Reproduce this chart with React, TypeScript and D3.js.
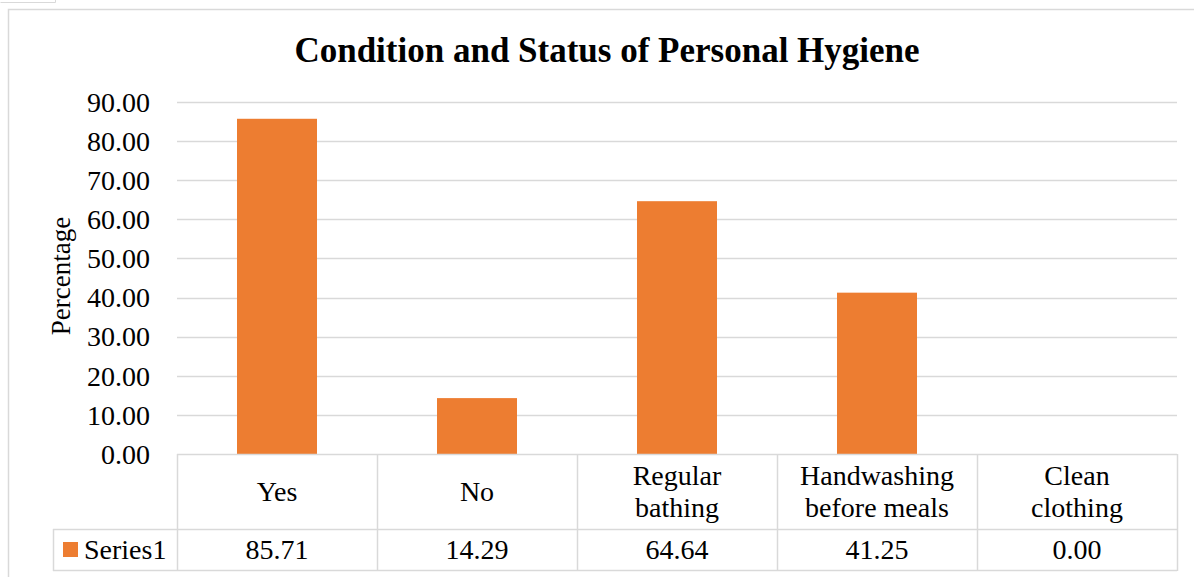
import React, { useEffect, useRef } from "react";
import * as d3 from "d3";

const categories = ["Yes", "No", "Regular bathing", "Handwashing before meals", "Clean clothing"];
const categoryLines = [["Yes"], ["No"], ["Regular", "bathing"], ["Handwashing", "before meals"], ["Clean", "clothing"]];
const values = [85.71, 14.29, 64.64, 41.25, 0.0];
const yTicks = [0, 10, 20, 30, 40, 50, 60, 70, 80, 90];
const seriesName = "Series1";

const FONT = "'Liberation Serif', 'Times New Roman', serif";

const drawChart = (node: SVGSVGElement) => {
  const svg = d3.select(node);
  svg.selectAll("*").remove();

  const width = 1194;
  const height = 577;
  const plotLeft = 177;
  const plotRight = 1177;
  const plotTop = 102;
  const plotBottom = 454;
  const headerBottom = 529;
  const tableBottom = 570;
  const legendLeft = 53;
  const grid = "#d9d9d9";

  svg.attr("width", width).attr("height", height);

  // little box peeking in at the top left
  svg.append("path")
    .attr("d", "M0.5,2.5H55.5V-1")
    .attr("fill", "none")
    .attr("stroke", grid);

  // chart frame (only top and left edges show)
  svg.append("path")
    .attr("d", `M8.5,${height}V9.5H${width}`)
    .attr("fill", "none")
    .attr("stroke", grid)
    .attr("stroke-width", 1.5);

  const x = d3
    .scaleBand()
    .domain(categories)
    .range([plotLeft, plotRight])
    .paddingInner(0.6)
    .paddingOuter(0.3);

  const y = d3.scaleLinear().domain([0, 90]).range([plotBottom, plotTop]);

  // gridlines
  svg.append("g")
    .selectAll("line")
    .data(yTicks.filter((d) => d > 0))
    .enter()
    .append("line")
    .attr("x1", plotLeft)
    .attr("x2", plotRight)
    .attr("y1", (d) => Math.round(y(d)) + 0.5)
    .attr("y2", (d) => Math.round(y(d)) + 0.5)
    .attr("stroke", grid)
    .attr("stroke-width", 1.5);

  // y tick labels
  svg.append("g")
    .selectAll("text")
    .data(yTicks)
    .enter()
    .append("text")
    .attr("x", 150)
    .attr("y", (d) => y(d))
    .attr("dy", "0.35em")
    .attr("text-anchor", "end")
    .attr("font-family", FONT)
    .attr("font-size", 28)
    .attr("fill", "#000")
    .text((d) => d.toFixed(2));

  // bars
  svg.append("g")
    .selectAll("rect")
    .data(values)
    .enter()
    .append("rect")
    .attr("x", (d, i) => x(categories[i])!)
    .attr("y", (d) => y(d))
    .attr("width", x.bandwidth())
    .attr("height", (d) => y(0) - y(d))
    .attr("fill", "#ed7d31");

  // title
  svg.append("text")
    .attr("x", 607)
    .attr("y", 62)
    .attr("text-anchor", "middle")
    .attr("font-family", FONT)
    .attr("font-weight", "bold")
    .attr("font-size", 35)
    .attr("fill", "#000")
    .text("Condition and Status of Personal Hygiene");

  // y axis title
  svg.append("text")
    .attr("transform", `translate(70,276) rotate(-90)`)
    .attr("text-anchor", "middle")
    .attr("font-family", FONT)
    .attr("font-size", 27)
    .attr("fill", "#000")
    .text("Percentage");

  // data table
  const table = svg.append("g").attr("stroke", grid).attr("stroke-width", 1.5).attr("fill", "none");
  const step = x.step();
  const colEdges = d3.range(categories.length + 1).map((i) => plotLeft + i * step);

  table.append("line")
    .attr("x1", plotLeft).attr("x2", plotRight)
    .attr("y1", plotBottom + 0.5).attr("y2", plotBottom + 0.5);
  table.append("line")
    .attr("x1", legendLeft).attr("x2", plotRight)
    .attr("y1", headerBottom + 0.5).attr("y2", headerBottom + 0.5);
  table.append("line")
    .attr("x1", legendLeft).attr("x2", plotRight)
    .attr("y1", tableBottom + 0.5).attr("y2", tableBottom + 0.5);
  table.append("line")
    .attr("x1", legendLeft + 0.5).attr("x2", legendLeft + 0.5)
    .attr("y1", headerBottom).attr("y2", tableBottom + 1);
  table.selectAll("line.col")
    .data(colEdges)
    .enter()
    .append("line")
    .attr("class", "col")
    .attr("x1", (d) => Math.round(d) + 0.5)
    .attr("x2", (d) => Math.round(d) + 0.5)
    .attr("y1", plotBottom)
    .attr("y2", tableBottom + 1);

  // category labels
  const headerMid = (plotBottom + headerBottom) / 2;
  const lineH = 32;
  const labels = svg.append("g")
    .attr("font-family", FONT)
    .attr("font-size", 28)
    .attr("fill", "#000")
    .attr("text-anchor", "middle");
  categoryLines.forEach((lines, i) => {
    const cx = x(categories[i])! + x.bandwidth() / 2;
    const t = labels.append("text");
    lines.forEach((ln, j) => {
      t.append("tspan")
        .attr("x", cx)
        .attr("y", headerMid + (j - (lines.length - 1) / 2) * lineH)
        .attr("dy", "0.35em")
        .text(ln);
    });
  });

  // value row
  const rowMid = (headerBottom + tableBottom) / 2;
  labels.selectAll("text.val")
    .data(values)
    .enter()
    .append("text")
    .attr("class", "val")
    .attr("x", (d, i) => x(categories[i])! + x.bandwidth() / 2)
    .attr("y", rowMid)
    .attr("dy", "0.35em")
    .text((d) => d.toFixed(2));

  // legend key
  svg.append("rect")
    .attr("x", 63)
    .attr("y", 542)
    .attr("width", 15)
    .attr("height", 15)
    .attr("fill", "#ed7d31");
  svg.append("text")
    .attr("x", 84)
    .attr("y", rowMid)
    .attr("dy", "0.35em")
    .attr("font-family", FONT)
    .attr("font-size", 28)
    .attr("fill", "#000")
    .text(seriesName);
};

export default function App() {
  const ref = useRef<SVGSVGElement>(null);

  useEffect(() => {
    if (ref.current) drawChart(ref.current);
  }, []);

  return (
    <div style={{ position: "absolute", left: 0, top: 0, background: "#fff" }}>
      <svg ref={ref} style={{ display: "block" }} />
    </div>
  );
}
